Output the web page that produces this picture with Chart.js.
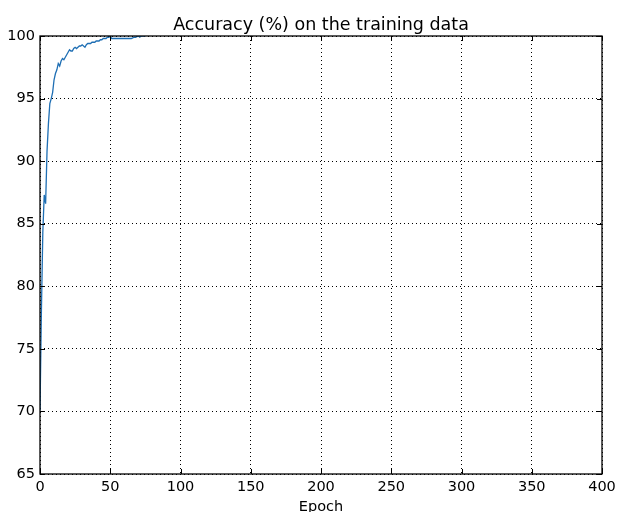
<!DOCTYPE html>
<html>
<head>
<meta charset="utf-8">
<title>Accuracy on the training data</title>
<script src="https://cdn.jsdelivr.net/npm/chart.js@4.4.0/dist/chart.umd.min.js"></script>
<style>
    body { margin: 0; background: #fff; }
    #grafico { display: block; }
</style>
</head>
<body>
<canvas id="grafico" width="618" height="512"></canvas>
<script>
// valores
var epochs = [0, 1, 2, 3, 4, 5, 6, 7, 8, 9, 10, 11, 12, 13, 14, 15, 16, 17, 18, 19,
    20, 21, 22, 23, 24, 25, 26, 27, 28, 29, 30, 31, 32, 33, 34, 35, 36, 37, 38, 39,
    40, 41, 42, 43, 44, 45, 46, 47, 48, 49, 50, 51, 52, 55, 60, 65, 66, 67, 68, 69,
    70, 71, 72, 75]
var accuracy = [70.1, 78.0, 84.3, 87.3, 86.6, 90.8, 93.0, 94.6, 95.0, 95.5, 96.5, 97.0, 97.3, 97.8, 97.6, 98.0, 98.2, 98.1, 98.3, 98.5,
    98.7, 98.9, 98.8, 98.8, 99.0, 99.1, 99.0, 99.1, 99.2, 99.2, 99.3, 99.2, 99.1, 99.3, 99.4, 99.4, 99.4, 99.5, 99.5, 99.5,
    99.6, 99.6, 99.6, 99.7, 99.7, 99.8, 99.8, 99.8, 99.9, 99.9, 100.0, 99.8, 99.8, 99.8, 99.8, 99.8, 99.85, 99.9, 99.9, 99.95,
    100.0, 99.9, 100.0, 100.0]
var xTicks = [0, 50, 100, 150, 200, 250, 300, 350, 400]
var yTicks = [65, 70, 75, 80, 85, 90, 95, 100]
var titulo = 'Accuracy (%) on the training data'

var fonte = "'DejaVu Sans', sans-serif"

function montarPontos() {
    var pontos = []
    for (var i = 0; i < epochs.length; i++) {
        pontos.push({ x: epochs[i], y: accuracy[i] })
    }
    return pontos
}

// moldura preta e ticks para dentro, nos quatro lados
var moldura = {
    id: 'moldura',
    afterDatasetsDraw: function (chart) {
        var ctx = chart.ctx
        var a = chart.chartArea
        var sx = chart.scales.x
        var sy = chart.scales.y
        var t = 5
        ctx.save()
        ctx.strokeStyle = '#000'
        ctx.lineWidth = 1
        ctx.beginPath()
        xTicks.forEach(function (v) {
            var px = Math.round(sx.getPixelForValue(v)) + 0.5
            ctx.moveTo(px, a.bottom); ctx.lineTo(px, a.bottom - t)
            ctx.moveTo(px, a.top); ctx.lineTo(px, a.top + t)
        })
        yTicks.forEach(function (v) {
            var py = Math.round(sy.getPixelForValue(v)) + 0.5
            ctx.moveTo(a.left, py); ctx.lineTo(a.left + t, py)
            ctx.moveTo(a.right, py); ctx.lineTo(a.right - t, py)
        })
        ctx.stroke()
        ctx.lineWidth = 1.3
        ctx.strokeRect(a.left, a.top, a.right - a.left, a.bottom - a.top)

        // titulo centrado sobre a area do grafico
        ctx.fillStyle = '#000'
        ctx.font = '17.5px ' + fonte
        ctx.textAlign = 'center'
        ctx.textBaseline = 'alphabetic'
        ctx.fillText(titulo, (a.left + a.right) / 2, 30)
        ctx.restore()
    }
}

var fundo = {
    id: 'fundo',
    beforeDraw: function (chart) {
        var ctx = chart.ctx
        ctx.save()
        ctx.fillStyle = '#fff'
        ctx.fillRect(0, 0, chart.width, chart.height)
        ctx.restore()
    }
}

function graficoAcuracia() {
    var ctx = document.getElementById('grafico').getContext('2d')

    new Chart(ctx, {
        type: 'line',
        data: {
            datasets: [{
                data: montarPontos(),
                borderColor: '#1f6fb4',
                borderWidth: 1.3,
                pointRadius: 0,
                tension: 0,
                fill: false,
                clip: 0
            }]
        },
        options: {
            responsive: false,
            animation: false,
            devicePixelRatio: 1,
            layout: { padding: { left: 0, right: 16, top: 36, bottom: 0 } },
            plugins: {
                legend: { display: false },
                tooltip: { enabled: false },
                title: { display: false }
            },
            scales: {
                x: {
                    type: 'linear',
                    min: 0,
                    max: 400,
                    afterBuildTicks: function (s) {
                        s.ticks = xTicks.map(function (v) { return { value: v } })
                    },
                    afterFit: function (s) {
                        s.height = 38
                        s.paddingLeft = 0
                        s.paddingRight = 0
                    },
                    grid: { color: '#000', lineWidth: 1, drawTicks: false },
                    border: { display: false, dash: [1, 3] },
                    ticks: {
                        color: '#000',
                        padding: 5,
                        maxRotation: 0,
                        font: { family: fonte, size: 14.5 }
                    },
                    title: {
                        display: true,
                        text: 'Epoch',
                        color: '#000',
                        font: { family: fonte, size: 14.5, lineHeight: 0.7 },
                        padding: 0
                    }
                },
                y: {
                    type: 'linear',
                    min: 65,
                    max: 100,
                    afterBuildTicks: function (s) {
                        s.ticks = yTicks.map(function (v) { return { value: v } })
                    },
                    afterFit: function (s) {
                        s.width = 40
                        s.paddingTop = 0
                        s.paddingBottom = 0
                    },
                    grid: { color: '#000', lineWidth: 1, drawTicks: false },
                    border: { display: false, dash: [1, 3] },
                    ticks: {
                        color: '#000',
                        padding: 5,
                        font: { family: fonte, size: 14.5 }
                    }
                }
            }
        },
        plugins: [fundo, moldura]
    })
}

graficoAcuracia()
</script>
</body>
</html>
